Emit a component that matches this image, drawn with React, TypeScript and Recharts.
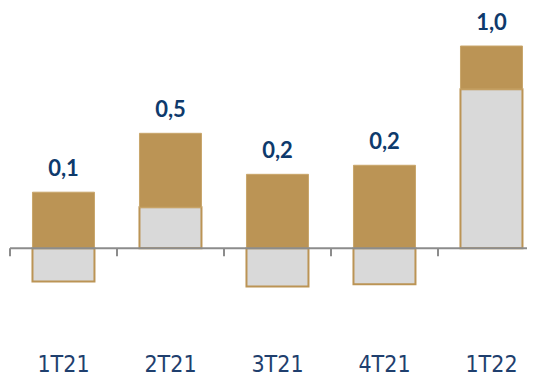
import React from "react";
import { BarChart, Bar, XAxis, YAxis, ReferenceLine, LabelList } from "recharts";

const quarters = ["1T21", "2T21", "3T21", "4T21", "1T22"];
const grayPart = [-0.157, 0.195, -0.181, -0.171, 0.757];
const goldPart = [0.267, 0.352, 0.352, 0.395, 0.205];

const GOLD = "#bb9455";
const GRAY = "#d9d9d9";
const NAVY = "#0e3a6c";
const AXIS = "#8c8c8c";
const TICK_LEN = 0.038;

const data = quarters.map((q, i) => ({
  name: q,
  gray: grayPart[i],
  gold: goldPart[i],
  total: grayPart[i] + goldPart[i],
}));

const fmt = (v: unknown) =>
  typeof v === "number" ? v.toFixed(1).replace(".", ",") : "";

export default function App() {
  return (
    <BarChart
      width={540}
      height={375}
      data={data}
      stackOffset="sign"
      barCategoryGap="21%"
      margin={{ top: 9, right: 3, left: 2, bottom: 0 }}
    >
      <XAxis
        dataKey="name"
        axisLine={false}
        tickLine={false}
        height={40}
        tickMargin={7}
        tick={{
          fill: "#1f3f6e",
          fontSize: 23,
          fontFamily: "'Liberation Sans Narrow', 'DejaVu Sans Condensed', Roboto, sans-serif",
        }}
      />
      <YAxis hide domain={[-0.45, 1.1]} />
      <Bar dataKey="gray" stackId="a" fill={GRAY} stroke={GOLD} strokeWidth={2} isAnimationActive={false} />
      <Bar dataKey="gold" stackId="a" fill={GOLD} stroke="#c9a66b" strokeWidth={1} isAnimationActive={false}>
        <LabelList
          dataKey="total"
          position="top"
          offset={16}
          formatter={fmt}
          fill={NAVY}
          fontSize={22}
          fontWeight="bold"
          fontFamily="Lato, sans-serif"
        />
      </Bar>
      <ReferenceLine y={0} stroke={AXIS} strokeWidth={2} />
      {quarters.map((q) => (
        <ReferenceLine
          key={q}
          segment={[{ x: q, y: 0 }, { x: q, y: -TICK_LEN }]}
          position="start"
          stroke={AXIS}
          strokeWidth={2}
        />
      ))}
    </BarChart>
  );
}
